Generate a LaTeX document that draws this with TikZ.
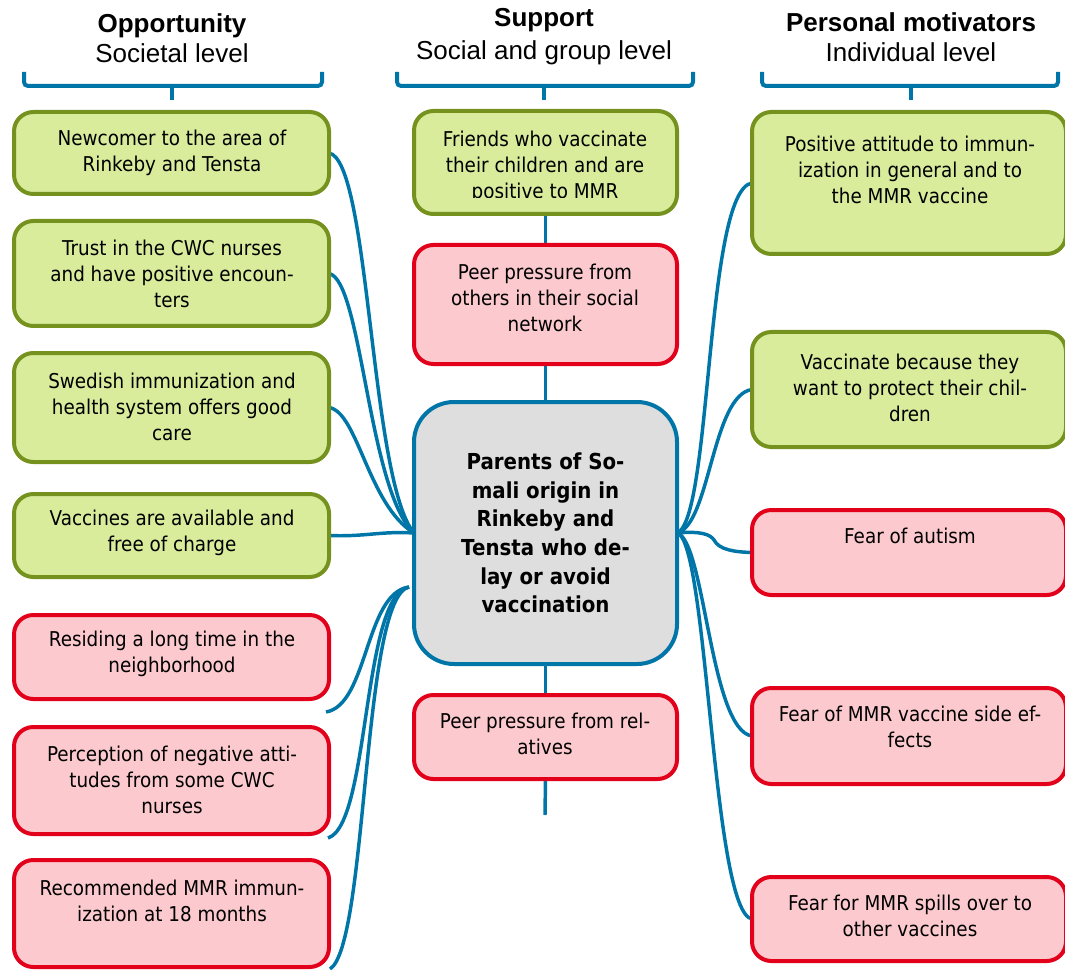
\documentclass[tikz,border=0pt]{standalone}
\usepackage{fontspec}
\setmainfont{DejaVu Sans}[FakeStretch=0.9]
\newfontfamily\hdfont{Liberation Sans}
\usetikzlibrary{calc}
\pgfdeclarelayer{background}
\pgfsetlayers{background,main}

\definecolor{gfill}{RGB}{216,236,156}
\definecolor{gline}{RGB}{118,146,30}
\definecolor{rfill}{RGB}{252,202,206}
\definecolor{rline}{RGB}{226,0,26}
\definecolor{cfill}{RGB}{222,222,222}
\definecolor{blueln}{RGB}{0,118,168}

\tikzset{
  gbox/.style={draw=gline, fill=gfill, line width=3pt, rounded corners=14.5pt, inner sep=0pt, outer sep=0pt},
  rbox/.style={draw=rline, fill=rfill, line width=3pt, rounded corners=14.5pt, inner sep=0pt, outer sep=0pt},
  cbox/.style={draw=blueln, fill=cfill, line width=3pt, rounded corners=30pt, inner sep=0pt, outer sep=0pt,
    align=center, font=\fontsize{16.5}{21.5}\selectfont\bfseries},
  txt/.style={align=center, inner sep=0pt, font=\fontsize{15.3}{19.5}\selectfont},
  hdb/.style={anchor=base, inner sep=0pt, font=\hdfont\fontsize{19.5}{22}\selectfont\bfseries},
  hdn/.style={anchor=base, inner sep=0pt, font=\hdfont\fontsize{19.5}{22}\selectfont},
  conn/.style={draw=blueln, line width=2.6pt},
  bracket/.style={draw=blueln, line width=3pt, rounded corners=3pt},
}

% box from its top-left to bottom-right corner (pixel units)
\newcommand\mkbox[6]{%
  \node[#6, anchor=north west, minimum width={(#4-#2)*0.75pt},
        minimum height={(#5-#3)*0.75pt}] (#1) at (#2,#3) {};}

\begin{document}
\begin{tikzpicture}[x=0.75pt, y=-0.75pt]
\useasboundingbox (0,0) rectangle (1065,970);

% column headings
\node[hdb] (h1a) at (172,33) {Opportunity};
\node[hdn] (h1b) at (172,63) {Societal level};
\node[hdb] (h2a) at (544,27) {Support};
\node[hdn] (h2b) at (544,60) {Social and group level};
\node[hdb] (h3a) at (911,32) {Personal motivators};
\node[hdn] (h3b) at (911,62) {Individual level};

% brackets under the headings
\draw[bracket] (24,72) |- (322,86) -- (322,72);
\draw[bracket] (172,86) -- (172,100);
\draw[bracket] (397,72) |- (693,86) -- (693,72);
\draw[bracket] (544,86) -- (544,100);
\draw[bracket] (762,72) |- (1058,86) -- (1058,72);
\draw[bracket] (911,86) -- (911,100);

% societal level
\mkbox{L1}{14}{112}{329}{194}{gbox}
\mkbox{L2}{14}{221}{329}{326}{gbox}
\mkbox{L3}{14}{353}{329}{462}{gbox}
\mkbox{L4}{14}{494}{329}{577}{gbox}
\mkbox{L5}{14}{615}{329}{699}{rbox}
\mkbox{L6}{14}{727}{329}{834}{rbox}
\mkbox{L7}{14}{860}{329}{967}{rbox}

\node[txt] (tL1) at (172,153) {Newcomer to the area of\\Rinkeby and Tensta};
\node[txt] (tL2) at (172,274) {Trust in the CWC nurses\\and have positive encoun-\\ters};
\node[txt] (tL3) at (172,407) {Swedish immunization and\\health system offers good\\care};
\node[txt] (tL4) at (172,533) {Vaccines are available and\\free of charge};
\node[txt] (tL5) at (172,654) {Residing a long time in the\\neighborhood};
\node[txt] (tL6) at (172,780) {Perception of negative atti-\\tudes from some CWC\\nurses};
\node[txt] (tL7) at (172,900.5) {Recommended MMR immun-\\ization at 18 months};

% social and group level
\mkbox{M1}{414}{111}{677}{214}{gbox}
\mkbox{M2}{414}{245}{677}{364}{rbox}
\node[cbox, anchor=north west, minimum width={263*0.75pt}, minimum height={262*0.75pt}]
  (C) at (414,402) {Parents of So-\\mali origin in\\Rinkeby and\\Tensta who de-\\lay or avoid\\vaccination};
\mkbox{M4}{414}{695}{677}{779}{rbox}

\begin{scope}
  \clip (414,111) rectangle (677,198);
  \node[txt] (tM1) at (545,167) {Friends who vaccinate\\their children and are\\positive to MMR};
\end{scope}
\node[txt] (tM2) at (545,298) {Peer pressure from\\others in their social\\network};
\node[txt] (tM4) at (545,733.5) {Peer pressure from rel-\\atives};
\coordinate (tail) at (545,815);

% individual level
\mkbox{R1}{752}{112}{1066}{254}{gbox}
\mkbox{R2}{752}{332}{1066}{447}{gbox}
\mkbox{R3}{752}{510}{1066}{595}{rbox}
\mkbox{R4}{752}{688}{1066}{784}{rbox}
\mkbox{R5}{752}{877}{1066}{961}{rbox}

\node[txt] (tR1) at (910,170) {Positive attitude to immun-\\ization in general and to\\the MMR vaccine};
\node[txt] (tR2) at (910,388) {Vaccinate because they\\want to protect their chil-\\dren};
\node[txt] (tR3) at (910,536) {Fear of autism};
\node[txt] (tR4) at (910,727) {Fear of MMR vaccine side ef-\\fects};
\node[txt] (tR5) at (910,915.5) {Fear for MMR spills over to\\other vaccines};

% connectors
\begin{pgfonlayer}{background}
  \coordinate (redin) at ($(C.west)+(-5,54)$);
  % middle column
  \draw[conn] (M1.south) -- (M2.north);
  \draw[conn] (M2.south) -- (C.north);
  \draw[conn] (C.south) -- (M4.north);
  \draw[conn] (M4.south) -- (tail);
  % left column, supporting factors
  \draw[conn] (L1.east) .. controls (370,160) and (370,480) .. (C.west);
  \draw[conn] (L2.east) .. controls (362,280) and (368,490) .. (C.west);
  \draw[conn] (L3.east) .. controls (358,412) and (368,505) .. (C.west);
  \draw[conn] (L4.east) .. controls (365,537) and (380,531) .. (C.west);
  % left column, hindering factors
  \draw[conn] (redin) .. controls (365,593) and (368,705) .. ($(L5.south east)+(-3,13)$);
  \draw[conn] (redin) .. controls (362,595) and (370,825) .. ($(L6.south east)+(-1,4)$);
  \draw[conn] (redin) .. controls (362,597) and (368,945) .. ($(L7.south east)+(1,2)$);
  % right column
  \draw[conn] (C.east) .. controls (712,520) and (705,190) .. (R1.west);
  \draw[conn] (C.east) .. controls (710,525) and (712,395) .. (R2.west);
  \draw[conn] (C.east) .. controls (700,531) and (710,534) .. (714,540)
                        .. controls (719,550) and (735,552) .. (R3.west);
  \draw[conn] (C.east) .. controls (705,540) and (710,730) .. (R4.west);
  \draw[conn] (C.east) .. controls (708,540) and (712,912) .. (R5.west);
\end{pgfonlayer}
\end{tikzpicture}
\end{document}
